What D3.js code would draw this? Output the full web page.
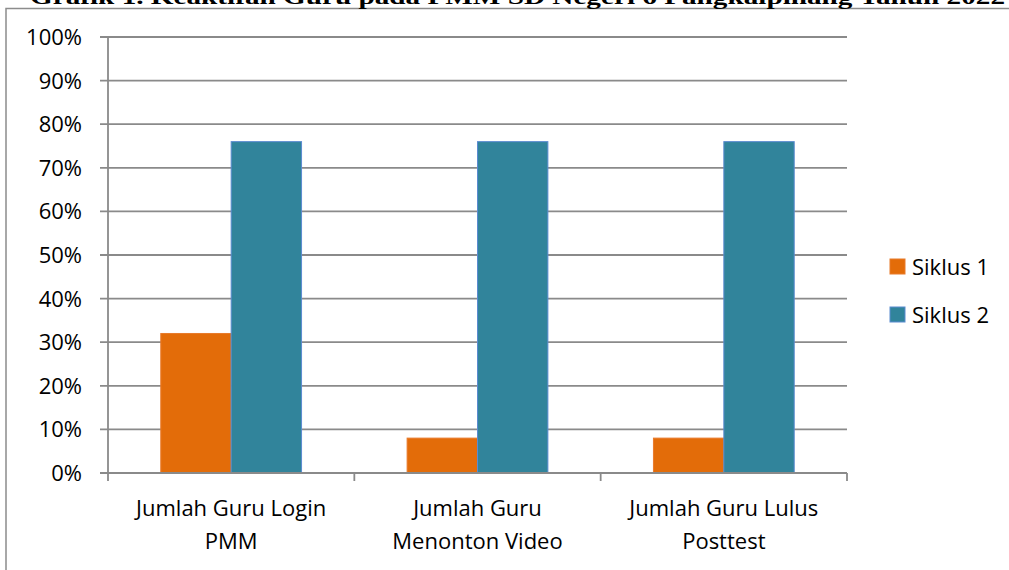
<!DOCTYPE html>
<html>
<head>
<meta charset="utf-8">
<script src="https://cdn.jsdelivr.net/npm/d3@7"></script>
<style>
  body { margin: 0; background: #fff; }
  svg text { font-family: "Open Sans", "Noto Sans", sans-serif; fill: #000; }
</style>
</head>
<body>
<svg id="viz" width="1009" height="570"></svg>
<script>
  // chart data
  let categories = [
    ["Jumlah Guru Login", "PMM"],
    ["Jumlah Guru", "Menonton Video"],
    ["Jumlah Guru Lulus", "Posttest"]
  ];
  let seriesNames = ["Siklus 1", "Siklus 2"];
  let siklus1 = [32, 8, 8];
  let siklus2 = [76, 76, 76];
  let yTicks = [0, 10, 20, 30, 40, 50, 60, 70, 80, 90, 100];
  let titleText = "Grafik 1. Keaktifan Guru pada PMM SD Negeri 6 Pangkalpinang Tahun 2022";

  let colors = ["#E36C09", "#31849B"];
  let strokes = ["#E87A2A", "#5B8BD0"];

  let svg = d3.select("#viz");

  // left/top outer frame (cropped)
  svg.append("path")
    .attr("d", "M6,580 L6,8.5 L1020,8.5")
    .attr("fill", "none")
    .attr("stroke", "#8c8c8c")
    .attr("stroke-width", 1.5);

  // title, clipped at top of image like the source
  svg.append("text")
    .attr("x", 30)
    .attr("y", 4)
    .attr("textLength", 975)
    .attr("lengthAdjust", "spacingAndGlyphs")
    .style("font-family", "'Liberation Serif', 'DejaVu Serif', serif")
    .style("font-weight", "bold")
    .style("font-size", "21px")
    .text(titleText);

  let plotLeft = 108, plotRight = 847, plotTop = 37, plotBottom = 473;
  let fs = "22px";

  let x0 = d3.scaleBand()
    .domain(d3.range(categories.length))
    .range([plotLeft, plotRight])
    .paddingInner(0)
    .paddingOuter(0);

  let bw = x0.bandwidth() / 3.5;

  let y = d3.scaleLinear().domain([0, 100]).range([plotBottom, plotTop]);

  // gridlines
  svg.append("g")
    .selectAll("line")
    .data(yTicks)
    .enter()
    .append("line")
    .attr("x1", plotLeft - 8)
    .attr("x2", plotRight)
    .attr("y1", d => y(d))
    .attr("y2", d => y(d))
    .attr("stroke", "#8a8a8a")
    .attr("stroke-width", 1.8);

  // y axis line
  svg.append("line")
    .attr("x1", plotLeft).attr("x2", plotLeft)
    .attr("y1", plotTop).attr("y2", plotBottom)
    .attr("stroke", "#8a8a8a")
    .attr("stroke-width", 1.8);

  // y labels
  svg.append("g")
    .selectAll("text")
    .data(yTicks)
    .enter()
    .append("text")
    .attr("x", 82)
    .attr("y", d => y(d))
    .attr("dy", "0.36em")
    .attr("text-anchor", "end")
    .style("font-size", fs)
    .text(d => d + "%");

  // bars
  let seriesVals = [siklus1, siklus2];
  seriesVals.forEach(function (vals, s) {
    svg.append("g")
      .selectAll("rect")
      .data(vals)
      .enter()
      .append("rect")
      .attr("x", (d, i) => x0(i) + bw * 0.75 + s * bw)
      .attr("y", d => y(d))
      .attr("width", bw)
      .attr("height", d => y(0) - y(d))
      .attr("fill", colors[s])
      .attr("stroke", strokes[s])
      .attr("stroke-width", 1);
  });

  // x axis line + ticks
  svg.append("line")
    .attr("x1", plotLeft).attr("x2", plotRight)
    .attr("y1", plotBottom).attr("y2", plotBottom)
    .attr("stroke", "#8a8a8a")
    .attr("stroke-width", 1.8);

  let bounds = d3.range(categories.length + 1).map(i => plotLeft + i * x0.step());
  svg.append("g")
    .selectAll("line")
    .data(bounds)
    .enter()
    .append("line")
    .attr("x1", d => d).attr("x2", d => d)
    .attr("y1", plotBottom).attr("y2", plotBottom + 8)
    .attr("stroke", "#8a8a8a")
    .attr("stroke-width", 1.8);

  // category labels
  let cat = svg.append("g")
    .selectAll("text")
    .data(categories)
    .enter()
    .append("text")
    .attr("text-anchor", "middle")
    .style("font-size", fs);
  cat.each(function (lines, i) {
    d3.select(this).selectAll("tspan")
      .data(lines)
      .enter()
      .append("tspan")
      .attr("x", x0(i) + x0.bandwidth() / 2)
      .attr("y", (d, j) => 516 + j * 33)
      .text(d => d);
  });

  // legend
  let leg = svg.append("g")
    .selectAll("g")
    .data(seriesNames)
    .enter()
    .append("g")
    .attr("transform", (d, i) => `translate(890, ${259 + i * 48})`);
  leg.append("rect")
    .attr("width", 15).attr("height", 15)
    .attr("fill", (d, i) => colors[i])
    .attr("stroke", (d, i) => strokes[i])
    .attr("stroke-width", 1);
  leg.append("text")
    .attr("x", 22)
    .attr("y", 8)
    .attr("dy", "0.36em")
    .style("font-size", fs)
    .text(d => d);
</script>
</body>
</html>
